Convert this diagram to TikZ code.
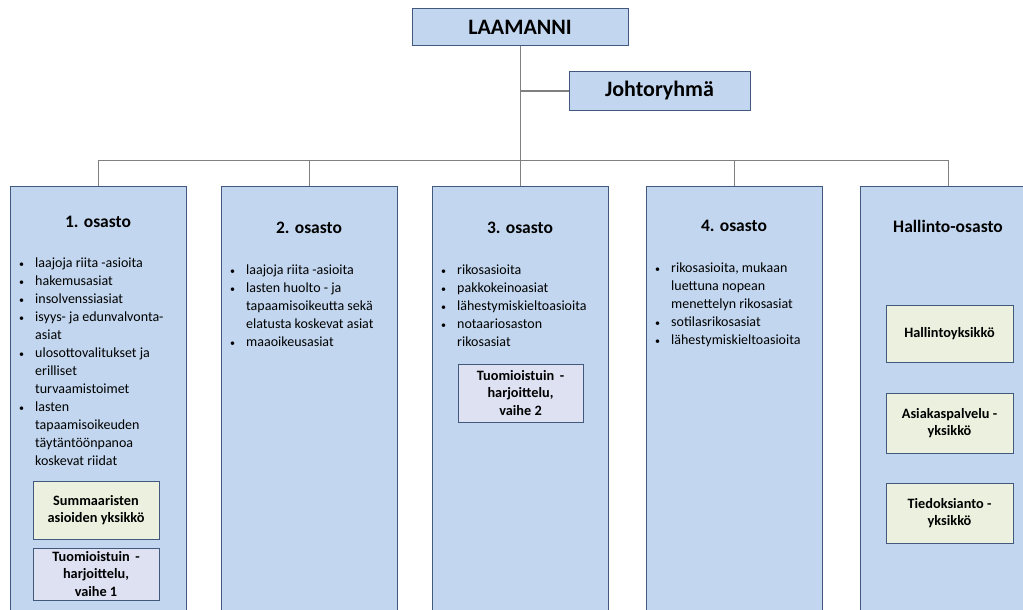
\documentclass[tikz,border=0pt]{standalone}
\usepackage{fontspec}
\setmainfont{Carlito}
\usetikzlibrary{positioning,calc}
\definecolor{osblue}{RGB}{194,215,239}
\definecolor{osline}{RGB}{65,89,124}
\definecolor{unitgreen}{RGB}{235,241,222}
\definecolor{unitlilac}{RGB}{221,225,242}
\definecolor{linkgrey}{RGB}{128,128,128}
\newcommand{\bulletlist}[1]{\begin{tabular}{@{}p{16pt}@{}l@{}}#1\end{tabular}}
\newcommand{\bul}{{\fontsize{10}{18}\selectfont\textbullet}}

\begin{document}
\begin{tikzpicture}[x=1pt,y=-1pt,
    topbox/.style={draw=osline, fill=osblue, line width=1pt, inner sep=0pt,
        font=\bfseries\fontsize{22}{24}\selectfont},
    dept/.style={draw=osline, fill=osblue, line width=1pt, inner sep=0pt,
        minimum width=176pt, minimum height=470pt, anchor=north},
    head/.style={font=\bfseries\fontsize{17.5}{20}\selectfont},
    items/.style={anchor=north west, inner sep=0pt, font=\fontsize{14}{18}\selectfont},
    unit/.style={draw=osline, line width=1pt, inner sep=0pt, align=center,
        minimum width=126pt, font=\bfseries\fontsize{14.3}{17.5}\selectfont},
    link/.style={draw=linkgrey, line width=1pt}]
    \useasboundingbox (0,0) rectangle (1023,610);
    \clip (0,0) rectangle (1023,610);

    % LAAMANNI and Johtoryhmä
    \node[topbox, minimum width=216pt, minimum height=37pt] (laamanni) at (520,27.5) {LAAMANNI};
    \node[topbox, minimum width=181pt, minimum height=38pt] (johto) at (659.5,91) {Johtoryhmä};

    % departments
    \node[dept] (os1) at (98,186) {};
    \node[dept] (os2) at (309,186) {};
    \node[dept] (os3) at (520,186) {};
    \node[dept] (os4) at (734,186) {};
    \node[dept] (os5) at (948,186) {};
    \coordinate (bus) at (0,160);

    % connectors
    \draw[link] (laamanni.south) -- (os3.north);
    \draw[link] (laamanni.south |- johto.west) -- (johto.west);
    \draw[link] (os1.north |- bus) -- (os5.north |- bus);
    \foreach \o in {os1,os2,os4,os5}
        \draw[link] (\o.north |- bus) -- (\o.north);

    % 1. osasto
    \node[head] (h1) at (98,222) {1. osasto};
    \node[items] (l1) at (19,255) {\bulletlist{
        \bul & laajoja riita -asioita\\
        \bul & hakemusasiat\\
        \bul & insolvenssiasiat\\
        \bul & isyys- ja edunvalvonta-\\
             & asiat\\
        \bul & ulosottovalitukset ja\\
             & erilliset\\
             & turvaamistoimet\\
        \bul & lasten\\
             & tapaamisoikeuden\\
             & täytäntöönpanoa\\
             & koskevat riidat}};
    \node[unit, fill=unitgreen, minimum height=58pt] (sum1) at (96,510) {Summaaristen\\asioiden yksikkö};
    \node[unit, fill=unitlilac, minimum height=52pt] (tuo1) at (96,574) {Tuomioistuin \,-\\harjoittelu,\\vaihe 1};

    % 2. osasto
    \node[head] (h2) at (309,228) {2. osasto};
    \node[items] (l2) at (230,262) {\bulletlist{
        \bul & laajoja riita -asioita\\
        \bul & lasten huolto - ja\\
             & tapaamisoikeutta sekä\\
             & elatusta koskevat asiat\\
        \bul & maaoikeusasiat}};

    % 3. osasto
    \node[head] (h3) at (520,228) {3. osasto};
    \node[items] (l3) at (441,262) {\bulletlist{
        \bul & rikosasioita\\
        \bul & pakkokeinoasiat\\
        \bul & lähestymiskieltoasioita\\
        \bul & notaariosaston\\
             & rikosasiat}};
    \node[unit, fill=unitlilac, minimum height=58pt, minimum width=125pt] (tuo2) at (520.5,393) {Tuomioistuin \,-\\harjoittelu,\\vaihe 2};

    % 4. osasto
    \node[head] (h4) at (734,226) {4. osasto};
    \node[items] (l4) at (655,260) {\bulletlist{
        \bul & rikosasioita, mukaan\\
             & luettuna nopean\\
             & menettelyn rikosasiat\\
        \bul & sotilasrikosasiat\\
        \bul & lähestymiskieltoasioita}};

    % Hallinto-osasto
    \node[head] (h5) at (948,226) {Hallinto-osasto};
    \node[unit, fill=unitgreen, minimum height=57pt, minimum width=127pt] (hal1) at (949.5,333.5) {Hallintoyksikkö};
    \node[unit, fill=unitgreen, minimum height=60pt, minimum width=127pt] (hal2) at (949.5,423) {Asiakaspalvelu -\\yksikkö};
    \node[unit, fill=unitgreen, minimum height=60pt, minimum width=127pt] (hal3) at (949.5,513) {Tiedoksianto -\\yksikkö};
\end{tikzpicture}
\end{document}
